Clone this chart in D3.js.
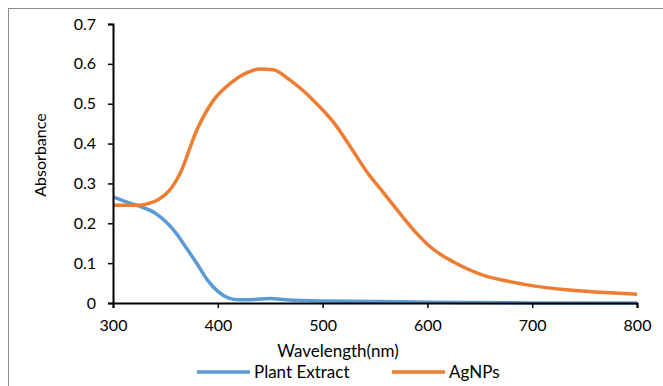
<!DOCTYPE html>
<html>
<head>
<meta charset="utf-8">
<script src="https://cdnjs.cloudflare.com/ajax/libs/d3/7.8.5/d3.min.js"></script>
<style>
  body { margin: 0; background: #fff; }
  text { font-family: Lato, "Open Sans", sans-serif; fill: #000; }
</style>
</head>
<body>
<svg id="chart" width="663" height="386"></svg>
<script>
// wavelengths (nm) and absorbance
var agWave = [300, 325, 333, 343, 353, 364, 380, 396, 412, 428, 440, 453, 469, 491, 510, 526, 542, 558, 574, 590, 601, 613, 625, 653, 676, 701, 733, 765, 800];
var agAbs  = [0.245, 0.245, 0.249, 0.259, 0.28, 0.325, 0.434, 0.509, 0.551, 0.578, 0.587, 0.585, 0.559, 0.509, 0.455, 0.394, 0.33, 0.277, 0.224, 0.174, 0.145, 0.121, 0.103, 0.07, 0.055, 0.043, 0.033, 0.027, 0.022];

var plantWave = [300, 310, 325, 340, 350, 360, 370, 380, 390, 400, 410, 420, 435, 450, 465, 500, 550, 600, 700, 800];
var plantAbs  = [0.266, 0.256, 0.243, 0.226, 0.205, 0.176, 0.138, 0.099, 0.058, 0.029, 0.013, 0.008, 0.009, 0.011, 0.008, 0.005, 0.004, 0.002, 0.0, 0.0];

var xTicks = [300, 400, 500, 600, 700, 800];
var yTicks = [0, 0.1, 0.2, 0.3, 0.4, 0.5, 0.6, 0.7];

var series = [
    { name: 'Plant Extract', color: '#5b9bd5', xs: plantWave, ys: plantAbs },
    { name: 'AgNPs', color: '#ed7d31', xs: agWave, ys: agAbs }
];

var svg = d3.select('#chart');

// chart area border (right and bottom edges fall off the picture)
svg.append('rect')
    .attr('x', 8.5).attr('y', 8.5)
    .attr('width', 700).attr('height', 400)
    .attr('fill', 'none')
    .attr('stroke', '#8c8c8c')
    .attr('stroke-width', 1);

var x = d3.scaleLinear().domain([300, 800]).range([113, 637]);
var y = d3.scaleLinear().domain([0, 0.7]).range([303, 24]);

var line = d3.line()
    .x(function (d) { return x(d[0]); })
    .y(function (d) { return y(d[1]); })
    .curve(d3.curveMonotoneX);

series.forEach(function (s) {
    svg.append('path')
        .datum(d3.zip(s.xs, s.ys))
        .attr('d', line)
        .attr('fill', 'none')
        .attr('stroke', s.color)
        .attr('stroke-width', 3.5)
        .attr('stroke-linejoin', 'round');
});

var yAxis = svg.append('g')
    .attr('transform', 'translate(' + x(300) + ',0)')
    .call(d3.axisLeft(y).tickValues(yTicks).tickSize(5).tickPadding(12)
        .tickFormat(function (d) { return d === 0 ? '0' : d3.format('.1f')(d); }));

var xAxis = svg.append('g')
    .attr('transform', 'translate(0,' + y(0) + ')')
    .call(d3.axisBottom(x).tickValues(xTicks).tickSize(5).tickPadding(12));

[yAxis, xAxis].forEach(function (g) {
    g.select('.domain').attr('stroke', '#000').attr('stroke-width', 2);
    g.selectAll('.tick line').attr('stroke', '#000').attr('stroke-width', 1.5);
    g.selectAll('.tick text').style('font-size', '16px').style('font-family', 'Lato, sans-serif').attr('fill', '#000');
});

svg.append('text')
    .attr('transform', 'translate(46,155) rotate(-90)')
    .attr('text-anchor', 'middle')
    .style('font-size', '16px')
    .text('Absorbance');

svg.append('text')
    .attr('x', 338).attr('y', 357)
    .attr('text-anchor', 'middle')
    .style('font-size', '17px')
    .text('Wavelength(nm)');

// legend
var legendX = [197, 392];
var legend = svg.selectAll('.legend')
    .data(series)
    .enter().append('g')
    .attr('class', 'legend')
    .attr('transform', function (d, i) { return 'translate(' + legendX[i] + ',372)'; });

legend.append('line')
    .attr('x1', 0).attr('x2', 53)
    .attr('stroke', function (d) { return d.color; })
    .attr('stroke-width', 3.5);

legend.append('text')
    .attr('x', 57).attr('y', 6)
    .style('font-size', '17px')
    .text(function (d) { return d.name; });
</script>
</body>
</html>
